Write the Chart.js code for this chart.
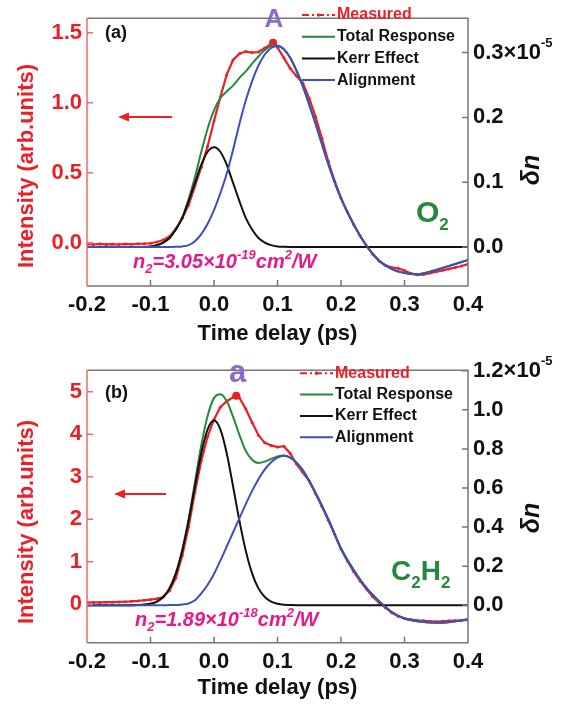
<!DOCTYPE html>
<html>
<head>
<meta charset="utf-8">
<script src="https://cdn.jsdelivr.net/npm/chart.js@4.4.0/dist/chart.umd.min.js"></script>
<style>
  body { margin: 0; background: #fff; }
  #wrap { position: relative; width: 570px; height: 704px; }
  canvas { position: absolute; left: 0; }
  #chartA { top: 0; }
  #chartB { top: 352px; }
</style>
</head>
<body>
<div id="wrap">
  <canvas id="chartA" width="570" height="352"></canvas>
  <canvas id="chartB" width="570" height="352"></canvas>
</div>
<script>
// shared x axis
const xTicks = [-0.2, -0.1, 0.0, 0.1, 0.2, 0.3, 0.4];

// time grid of the fitted curves (ps)
const fitTime = [-0.2, -0.14, -0.12, -0.1, -0.09, -0.08, -0.07, -0.06, -0.05, -0.04, -0.03, -0.02, -0.01,
  0, 0.01, 0.02, 0.03, 0.04, 0.05, 0.06, 0.07, 0.08, 0.09, 0.1, 0.11, 0.12, 0.13, 0.14,
  0.16, 0.18, 0.2, 0.22, 0.24, 0.26, 0.28, 0.3, 0.32, 0.34, 0.36, 0.38, 0.4];

// time grid of the measured traces (ps), the extra point is the marked peak
const measTimeA = [-0.2, -0.19, -0.18, -0.17, -0.16, -0.15, -0.14, -0.13, -0.12, -0.11, -0.1, -0.09, -0.08, -0.07,
  -0.06, -0.05, -0.04, -0.03, -0.02, -0.01, 0, 0.01, 0.02, 0.03, 0.04, 0.05, 0.06, 0.07, 0.08, 0.09, 0.093,
  0.1, 0.11, 0.12, 0.13, 0.14, 0.15, 0.16, 0.17, 0.18, 0.19, 0.2, 0.21, 0.22, 0.23, 0.24, 0.25, 0.26, 0.27,
  0.28, 0.29, 0.3, 0.31, 0.32, 0.33, 0.34, 0.35, 0.36, 0.37, 0.38, 0.39, 0.4];
const measTimeB = [-0.2, -0.19, -0.18, -0.17, -0.16, -0.15, -0.14, -0.13, -0.12, -0.11, -0.1, -0.09, -0.08, -0.07,
  -0.06, -0.05, -0.04, -0.03, -0.02, -0.01, 0, 0.01, 0.02, 0.03, 0.035, 0.04, 0.05, 0.06, 0.07, 0.08, 0.09,
  0.1, 0.11, 0.12, 0.13, 0.14, 0.15, 0.16, 0.17, 0.18, 0.19, 0.2, 0.21, 0.22, 0.23, 0.24, 0.25, 0.26, 0.27,
  0.28, 0.29, 0.3, 0.31, 0.32, 0.33, 0.34, 0.35, 0.36, 0.37, 0.38, 0.39, 0.4];

// (a) O2 : measured intensity (arb. units), fits in delta n (x1e-5)
const measuredA = [-0.010, -0.012, -0.008, -0.011, -0.009, -0.012, -0.008, -0.010, -0.007, -0.006, -0.003, 0.006, 0.020, 0.046,
  0.100, 0.175, 0.270, 0.405, 0.540, 0.690, 0.870, 1.040, 1.200, 1.305, 1.350, 1.365, 1.358, 1.362, 1.390, 1.420, 1.428,
  1.395, 1.320, 1.245, 1.190, 1.140, 1.030, 0.900, 0.745, 0.580, 0.440, 0.320, 0.220, 0.130, 0.050, -0.020, -0.080, -0.130, -0.160,
  -0.176, -0.182, -0.198, -0.218, -0.228, -0.226, -0.216, -0.206, -0.196, -0.186, -0.176, -0.165, -0.152];
const totalA = [0, 0, 0.0001, 0.001, 0.003, 0.007, 0.014, 0.028, 0.046, 0.074, 0.108, 0.147, 0.183,
  0.211, 0.230, 0.240, 0.249, 0.261, 0.271, 0.283, 0.294, 0.304, 0.310, 0.311, 0.305, 0.292, 0.272, 0.248,
  0.190, 0.128, 0.075, 0.035, 0.002, -0.021, -0.034, -0.040, -0.042, -0.038, -0.032, -0.026, -0.020];
const kerrA = [0, 0, 0.0001, 0.001, 0.003, 0.007, 0.014, 0.027, 0.045, 0.071, 0.099, 0.127, 0.147,
  0.154, 0.147, 0.127, 0.099, 0.071, 0.045, 0.027, 0.014, 0.007, 0.003, 0.001, 0.0004, 0.0001, 0, 0,
  0, 0, 0, 0, 0, 0, 0, 0, 0, 0, 0, 0, 0];
const alignA = [0, 0, 0, 0, 0, 0, 0.0002, 0.0005, 0.001, 0.003, 0.009, 0.020, 0.036,
  0.057, 0.083, 0.113, 0.150, 0.190, 0.226, 0.256, 0.280, 0.297, 0.307, 0.310, 0.305, 0.292, 0.272, 0.248,
  0.190, 0.128, 0.075, 0.035, 0.002, -0.021, -0.034, -0.040, -0.042, -0.038, -0.032, -0.026, -0.020];
const leftTicksA = [0, 0.5, 1.0, 1.5];
const rightTicksA = [0, 0.1, 0.2, 0.3];

// (b) C2H2
const measuredB = [0.040, 0.045, 0.045, 0.050, 0.050, 0.055, 0.060, 0.070, 0.080, 0.095, 0.110, 0.130, 0.170, 0.320,
  0.620, 1.150, 1.820, 2.650, 3.380, 3.950, 4.350, 4.640, 4.780, 4.870, 4.910, 4.860, 4.600, 4.280, 3.980, 3.800, 3.740,
  3.700, 3.720, 3.550, 3.300, 3.100, 2.900, 2.600, 2.300, 1.980, 1.650, 1.300, 1.020, 0.770, 0.550, 0.360, 0.180, 0.040, -0.080,
  -0.200, -0.280, -0.330, -0.360, -0.380, -0.390, -0.400, -0.410, -0.400, -0.390, -0.385, -0.380, -0.370];
const totalB = [0, 0, 0.001, 0.007, 0.018, 0.042, 0.087, 0.164, 0.283, 0.440, 0.630, 0.820, 0.970,
  1.060, 1.080, 1.045, 0.965, 0.872, 0.790, 0.745, 0.728, 0.735, 0.749, 0.762, 0.766, 0.756, 0.730, 0.690,
  0.575, 0.440, 0.290, 0.180, 0.088, 0.020, -0.035, -0.068, -0.082, -0.088, -0.090, -0.082, -0.072];
const kerrB = [0, 0, 0.001, 0.007, 0.018, 0.042, 0.086, 0.163, 0.279, 0.433, 0.609, 0.778, 0.900,
  0.945, 0.900, 0.778, 0.609, 0.433, 0.279, 0.163, 0.086, 0.042, 0.018, 0.007, 0.002, 0.001, 0, 0,
  0, 0, 0, 0, 0, 0, 0, 0, 0, 0, 0, 0, 0];
const alignB = [0, 0, 0, 0, 0, 0, 0.0005, 0.001, 0.004, 0.009, 0.025, 0.060, 0.105,
  0.160, 0.228, 0.300, 0.372, 0.445, 0.517, 0.585, 0.645, 0.695, 0.732, 0.755, 0.765, 0.755, 0.730, 0.690,
  0.575, 0.440, 0.290, 0.180, 0.088, 0.020, -0.035, -0.068, -0.082, -0.088, -0.090, -0.082, -0.072];
const leftTicksB = [0, 1, 2, 3, 4, 5];
const rightTicksB = [0, 0.2, 0.4, 0.6, 0.8, 1.0, 1.2];

const FONT = '"Liberation Sans", Arial, Helvetica, sans-serif';
const RED = '#ec1f26';
const GREEN = '#23893c';
const BLUE = '#3e4ebf';
const BLACK = '#111111';
const PURPLE = '#8b6cc8';
const MAGENTA = '#e6198b';
const FRAME = '#777777';

Chart.defaults.font.family = FONT;

const pts = (xs, ys) => xs.map((x, i) => ({ x: x, y: ys[i] }));

function rich(ctx, x, y, parts, color) {
  ctx.fillStyle = color;
  ctx.textAlign = 'left';
  ctx.textBaseline = 'alphabetic';
  for (const p of parts) {
    ctx.font = p.f;
    ctx.fillText(p.t, x, y + (p.dy || 0));
    x += ctx.measureText(p.t).width;
  }
}

function decor(p) {
  return {
    id: 'decor',
    afterDraw(chart) {
      const ctx = chart.ctx, a = chart.chartArea;
      const xs = chart.scales.x, yl = chart.scales.y, yr = chart.scales.y1;
      ctx.save();

      // frame
      ctx.lineWidth = 1.5;
      ctx.strokeStyle = FRAME;
      ctx.beginPath();
      ctx.moveTo(a.left, a.top); ctx.lineTo(a.right, a.top);
      ctx.lineTo(a.right, a.bottom); ctx.lineTo(a.left, a.bottom);
      ctx.stroke();
      ctx.strokeStyle = '#f06a6a';
      ctx.beginPath(); ctx.moveTo(a.left, a.top); ctx.lineTo(a.left, a.bottom); ctx.stroke();

      // inward ticks
      ctx.strokeStyle = FRAME;
      ctx.beginPath();
      xTicks.slice(1, -1).forEach(v => {
        const px = xs.getPixelForValue(v);
        ctx.moveTo(px, a.bottom); ctx.lineTo(px, a.bottom - 6);
      });
      p.rightTicks.forEach(v => {
        const py = yr.getPixelForValue(v);
        ctx.moveTo(a.right, py); ctx.lineTo(a.right - 6, py);
      });
      ctx.stroke();
      ctx.strokeStyle = '#f06a6a';
      ctx.beginPath();
      p.leftTicks.forEach(v => {
        const py = yl.getPixelForValue(v);
        ctx.moveTo(a.left, py); ctx.lineTo(a.left + 6, py);
      });
      ctx.stroke();

      // superscript of the top right tick
      const topV = p.rightTicks[p.rightTicks.length - 1];
      ctx.font = 'bold 22px ' + FONT;
      const w = ctx.measureText(p.rightFmt(topV)).width;
      ctx.font = 'bold 13px ' + FONT;
      ctx.fillStyle = BLACK;
      ctx.textAlign = 'left';
      ctx.textBaseline = 'middle';
      ctx.fillText('-5', a.right + 5 + w, yr.getPixelForValue(topV) - 9);

      // axis titles
      ctx.save();
      ctx.translate(27, p.leftTitleY);
      ctx.rotate(-Math.PI / 2);
      ctx.font = 'bold 22px ' + FONT;
      ctx.fillStyle = RED;
      ctx.textAlign = 'center';
      ctx.textBaseline = 'middle';
      ctx.fillText('Intensity (arb.units)', 0, 0);
      ctx.restore();
      ctx.save();
      ctx.translate(532, p.rightTitleY);
      ctx.rotate(-Math.PI / 2);
      ctx.font = 'italic bold 25px ' + FONT;
      ctx.fillStyle = BLACK;
      ctx.textAlign = 'center';
      ctx.textBaseline = 'middle';
      ctx.fillText('δn', 0, 0);
      ctx.restore();

      // legend
      const labels = ['Measured', 'Total Response', 'Kerr Effect', 'Alignment'];
      const cols = [RED, GREEN, BLACK, BLUE];
      ctx.font = 'bold 16px ' + FONT;
      ctx.textBaseline = 'middle';
      ctx.textAlign = 'left';
      labels.forEach((t, i) => {
        const y = p.legY + i * p.legDy;
        ctx.strokeStyle = cols[i];
        ctx.lineWidth = 2;
        ctx.setLineDash(i === 0 ? [7, 3, 2, 3] : []);
        ctx.beginPath(); ctx.moveTo(p.legX, y); ctx.lineTo(p.legX + 33, y); ctx.stroke();
        ctx.setLineDash([]);
        if (i === 0) {
          ctx.fillStyle = RED;
          ctx.beginPath(); ctx.arc(p.legX + 16.5, y, 1.8, 0, Math.PI * 2); ctx.fill();
        }
        ctx.fillStyle = i === 0 ? RED : BLACK;
        ctx.fillText(t, p.legX + 35, y);
      });

      // panel tag and peak letter
      ctx.font = 'bold 18px ' + FONT;
      ctx.fillStyle = BLACK;
      ctx.textAlign = 'left';
      ctx.fillText(p.tag, 105, p.tagY);
      ctx.font = 'bold ' + p.peakSize + 'px ' + FONT;
      ctx.fillStyle = PURPLE;
      ctx.textAlign = 'center';
      ctx.textBaseline = 'alphabetic';
      ctx.fillText(p.peakLetter, p.peakX, p.peakY);

      // arrow pointing to the left axis
      ctx.strokeStyle = RED;
      ctx.fillStyle = RED;
      ctx.lineWidth = 2.2;
      ctx.beginPath(); ctx.moveTo(p.arrow[0], p.arrow[2]); ctx.lineTo(p.arrow[1] + 8, p.arrow[2]); ctx.stroke();
      ctx.beginPath();
      ctx.moveTo(p.arrow[1], p.arrow[2]);
      ctx.lineTo(p.arrow[1] + 11, p.arrow[2] - 4.5);
      ctx.lineTo(p.arrow[1] + 11, p.arrow[2] + 4.5);
      ctx.closePath(); ctx.fill();

      // molecule and n2 value
      rich(ctx, p.molX, p.molY, p.molecule, GREEN);
      const big = 'italic bold 20px ' + FONT, small = 'italic bold 13px ' + FONT;
      rich(ctx, p.n2X, p.n2Y, [
        { t: 'n', f: big }, { t: '2', f: small, dy: 5 }, { t: '=' + p.n2 + '×10', f: big },
        { t: p.n2Exp, f: small, dy: -9 }, { t: 'cm', f: big }, { t: '2', f: small, dy: -9 }, { t: '/W', f: big }
      ], MAGENTA);

      ctx.restore();
    }
  };
}

function makePanel(id, p) {
  const peak = p.measured.indexOf(Math.max(...p.measured));
  const tickFont = { size: 22, weight: 'bold' };
  return new Chart(id, {
    type: 'line',
    data: {
      datasets: [
        { label: 'Measured', data: pts(p.measTime, p.measured), yAxisID: 'y', borderColor: RED, backgroundColor: RED,
          borderWidth: 2.2, pointRadius: c => c.dataIndex === peak ? 4 : 1.5, pointBorderWidth: 0, tension: 0, order: 4 },
        { label: 'Total Response', data: pts(fitTime, p.total), yAxisID: 'y1', borderColor: GREEN, borderWidth: 2,
          pointRadius: 0, cubicInterpolationMode: 'monotone', order: 3 },
        { label: 'Kerr Effect', data: pts(fitTime, p.kerr), yAxisID: 'y1', borderColor: BLACK, borderWidth: 2,
          pointRadius: 0, cubicInterpolationMode: 'monotone', order: 2 },
        { label: 'Alignment', data: pts(fitTime, p.align), yAxisID: 'y1', borderColor: BLUE, borderWidth: 2,
          pointRadius: 0, cubicInterpolationMode: 'monotone', order: 1 }
      ]
    },
    options: {
      responsive: false,
      animation: false,
      events: [],
      layout: { padding: { top: p.top, left: 0, right: 0, bottom: 0 } },
      plugins: { legend: { display: false }, tooltip: { enabled: false } },
      scales: {
        x: {
          type: 'linear', min: -0.2, max: 0.4,
          afterBuildTicks: s => { s.ticks = xTicks.map(v => ({ value: v })); },
          afterFit: s => { s.height = p.xHeight; },
          grid: { display: false, drawTicks: false },
          border: { display: false },
          ticks: { color: BLACK, font: tickFont, padding: 6, maxRotation: 0, autoSkip: false, callback: v => v.toFixed(1) },
          title: { display: true, text: 'Time delay (ps)', color: BLACK, font: { size: 22, weight: 'bold' },
            padding: { top: 0, bottom: p.titlePad } }
        },
        y: {
          position: 'left', min: p.leftMin, max: p.leftMax,
          afterBuildTicks: s => { s.ticks = p.leftTicks.map(v => ({ value: v })); },
          afterFit: s => { s.width = 87; },
          grid: { display: false, drawTicks: false },
          border: { display: false },
          ticks: { color: RED, font: tickFont, padding: 5, autoSkip: false, callback: p.leftFmt }
        },
        y1: {
          position: 'right', min: p.rightMin, max: p.rightMax,
          afterBuildTicks: s => { s.ticks = p.rightTicks.map(v => ({ value: v })); },
          afterFit: s => { s.width = 102; },
          grid: { display: false, drawTicks: false },
          border: { display: false },
          ticks: { color: BLACK, font: tickFont, padding: 5, autoSkip: false, callback: p.rightFmt }
        }
      }
    },
    plugins: [decor(p)]
  });
}

makePanel('chartA', {
  measTime: measTimeA, measured: measuredA, total: totalA, kerr: kerrA, align: alignA,
  leftTicks: leftTicksA, rightTicks: rightTicksA,
  leftMin: -0.308, leftMax: 1.603, rightMin: -0.060, rightMax: 0.353,
  leftFmt: v => v.toFixed(1),
  rightFmt: v => v === 0.3 ? '0.3×10' : v.toFixed(1),
  top: 7, xHeight: 66, titlePad: 5,
  leftTitleY: 166, rightTitleY: 170,
  legX: 302, legY: 15, legDy: 21.7,
  tag: '(a)', tagY: 33, peakLetter: 'A', peakSize: 26, peakX: 274, peakY: 27,
  arrow: [172, 118, 117],
  molX: 416, molY: 222,
  molecule: [{ t: 'O', f: 'bold 30px ' + FONT }, { t: '2', f: 'bold 17px ' + FONT, dy: 8 }],
  n2X: 133, n2Y: 268, n2: '3.05', n2Exp: '-19'
});

makePanel('chartB', {
  measTime: measTimeB, measured: measuredB, total: totalB, kerr: kerrB, align: alignB,
  leftTicks: leftTicksB, rightTicks: rightTicksB,
  leftMin: -0.904, leftMax: 5.51, rightMin: -0.192, rightMax: 1.203,
  leftFmt: v => String(v),
  rightFmt: v => v === 1.2 ? '1.2×10' : v.toFixed(1),
  top: 10.7, xHeight: 61.3, titlePad: 2.5,
  leftTitleY: 170, rightTitleY: 166,
  legX: 300, legY: 21.3, legDy: 21.3,
  tag: '(b)', tagY: 41, peakLetter: 'a', peakSize: 31, peakX: 237.5, peakY: 30,
  arrow: [166, 114, 142],
  molX: 391, molY: 228,
  molecule: [{ t: 'C', f: 'bold 28px ' + FONT }, { t: '2', f: 'bold 17px ' + FONT, dy: 8 },
    { t: 'H', f: 'bold 28px ' + FONT }, { t: '2', f: 'bold 17px ' + FONT, dy: 8 }],
  n2X: 135, n2Y: 274, n2: '1.89', n2Exp: '-18'
});
</script>
</body>
</html>
